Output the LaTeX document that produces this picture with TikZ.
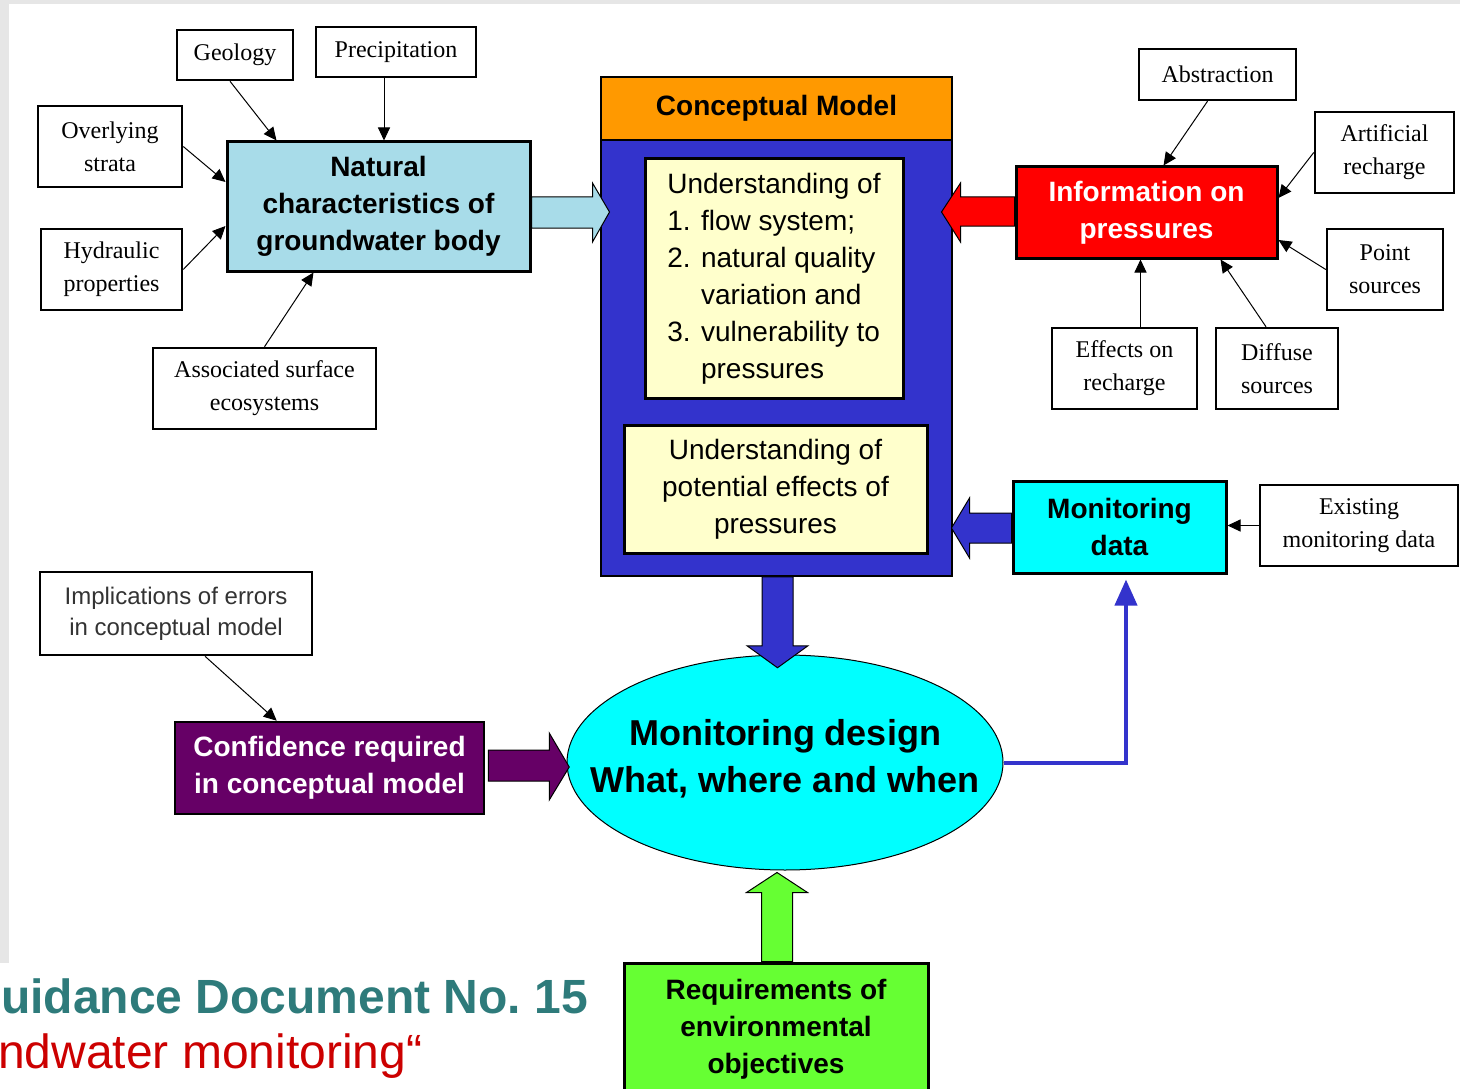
\documentclass[tikz,border=0pt]{standalone}
\usepackage{fontspec}
\setmainfont{Liberation Serif}
\setsansfont{Liberation Sans}
\usepackage{tikz}
\usetikzlibrary{arrows.meta,calc,shapes.geometric}
\usepackage{xcolor}
\definecolor{CMorange}{HTML}{FF9900}
\definecolor{CMblue}{HTML}{3333CC}
\definecolor{Pale}{HTML}{FFFFCC}
\definecolor{Water}{HTML}{A8DCE9}
\definecolor{Aqua}{HTML}{00FFFF}
\definecolor{Alarm}{HTML}{FF0000}
\definecolor{Plum}{HTML}{660066}
\definecolor{Lime}{HTML}{66FF33}
\definecolor{Slide}{HTML}{E6E6E6}
\definecolor{TealHead}{HTML}{2E7B7B}
\definecolor{RedSub}{HTML}{CC0000}
\tikzset{
  srcbox/.style={draw,line width=2.5pt,fill=white,inner sep=0pt,align=center,
    font=\rmfamily\fontsize{24}{33}\selectfont},
  keybox/.style={draw,line width=3pt,inner sep=0pt,align=center,
    font=\sffamily\bfseries\fontsize{28}{37}\selectfont},
  notebox/.style={draw,line width=3pt,fill=Pale,inner sep=0pt,
    font=\sffamily\fontsize{28}{37}\selectfont},
  feed/.style={line width=1pt,-{Triangle[length=13pt,width=12pt]}},
  block/.style={draw,line width=1pt,line join=miter},
}

\begin{document}
\begin{tikzpicture}[x=1pt,y=-1pt]
  \useasboundingbox (0,0) rectangle (1460,1089);
  \fill[white] (0,0) rectangle (1460,1089);
  \fill[Slide] (0,0) rectangle (1460,4);
  \fill[Slide] (0,0) rectangle (9,963);

  \node[srcbox,minimum width=116pt,minimum height=50pt] (geo) at (235,55) {Geology};
  \node[srcbox,minimum width=160pt,minimum height=50pt] (prec) at (396,52) {Precipitation};
  \node[srcbox,minimum width=144pt,minimum height=81pt] (over) at (110,146.5) {Overlying\\strata};
  \node[srcbox,minimum width=141pt,minimum height=81pt] (hyd) at (111.5,269.5) {Hydraulic\\properties};
  \node[srcbox,minimum width=223pt,minimum height=81pt] (assoc) at (264.5,388.5) {Associated surface\\ecosystems};
  \node[keybox,fill=Water,minimum width=303pt,minimum height=129pt] (nat) at (378.5,206.5)
    {Natural\\characteristics of\\groundwater body};

  \node[draw,line width=1.5pt,fill=CMorange,inner sep=0pt,minimum width=351pt,minimum height=63pt,
    font=\sffamily\bfseries\fontsize{28}{37}\selectfont] (cmhead) at (776.5,108.5) {Conceptual Model};
  \node[draw,line width=1.5pt,fill=CMblue,minimum width=351pt,minimum height=436pt] (cmbody) at (776.5,358) {};
  \node[notebox,align=left,minimum width=258pt,minimum height=239pt] (und1) at (774,278.5)
    {Understanding of\\1. flow system;\\2. natural quality\\\phantom{2. }variation and\\3. vulnerability to\\\phantom{3. }pressures};
  \node[notebox,align=center,minimum width=303pt,minimum height=128pt] (und2) at (775.5,489)
    {Understanding of\\potential effects of\\pressures};

  \node[keybox,fill=Alarm,text=white,minimum width=261pt,minimum height=91pt] (info) at (1146.5,212.5)
    {Information on\\pressures};
  \node[srcbox,minimum width=157pt,minimum height=51pt] (abst) at (1217.5,74.5) {Abstraction};
  \node[srcbox,minimum width=139pt,minimum height=81pt] (artif) at (1384.5,152.5) {Artificial\\recharge};
  \node[srcbox,minimum width=116pt,minimum height=81pt] (point) at (1385,269.5) {Point\\sources};
  \node[srcbox,minimum width=145pt,minimum height=81pt] (effect) at (1124.5,368.5) {Effects on\\recharge};
  \node[srcbox,minimum width=122pt,minimum height=81pt] (diffuse) at (1277,368.5) {Diffuse\\sources};
  \node[keybox,fill=Aqua,minimum width=213pt,minimum height=92pt] (mdata) at (1119.5,527) {Monitoring\\data};
  \node[srcbox,minimum width=198pt,minimum height=81pt] (exist) at (1359,525.5) {Existing\\monitoring data};

  \node[draw,line width=1pt,fill=Aqua,ellipse,inner sep=0pt,minimum width=436pt,minimum height=215pt,
    label={[align=center,font=\sffamily\bfseries\fontsize{36}{47}\selectfont,yshift=4pt]center:Monitoring design\\What, where and when}]
    (design) at (785,762.5) {};
  \node[draw,line width=2.5pt,fill=white,inner sep=0pt,minimum width=272pt,minimum height=83pt,
    align=center,text=black!80,font=\sffamily\fontsize{24}{31}\selectfont] (impl) at (176,613.5)
    {Implications of errors\\in conceptual model};
  \node[keybox,line width=2.5pt,fill=Plum,text=white,minimum width=309pt,minimum height=92pt] (conf) at (329.5,768)
    {Confidence required\\in conceptual model};
  \node[keybox,fill=Lime,minimum width=304pt,minimum height=132pt] (req) at (776,1029)
    {Requirements of\\environmental\\objectives};

  \node[anchor=base west,inner sep=0pt,text=TealHead,font=\sffamily\bfseries\fontsize{48}{58}\selectfont]
    (title) at (1,1013) {uidance Document No.\ 15};
  \node[anchor=base west,inner sep=0pt,text=RedSub,font=\sffamily\fontsize{48}{58}\selectfont]
    (subtitle) at (-2,1068) {ndwater monitoring“};

  \draw[feed] ([xshift=-5pt]geo.south) -- ([xshift=51pt]nat.north west);
  \draw[feed] ([xshift=-12pt]prec.south) -- ([xshift=-12pt]prec.south |- nat.north);
  \draw[feed] (over.east) -- ([yshift=24.5pt]nat.west);
  \draw[feed] (hyd.east) -- ([yshift=-19.5pt]nat.west);
  \draw[feed] (assoc.north) -- ([xshift=88pt]nat.south west);
  \draw[feed] ([xshift=-10pt]abst.south) -- ([xshift=149pt]info.north west);
  \draw[feed] (artif.west) -- ([yshift=14.5pt]info.east);
  \draw[feed] (point.west) -- ([yshift=-27.5pt]info.east);
  \draw[feed] ([xshift=16pt]effect.north) -- ([xshift=16pt]effect.north |- info.south);
  \draw[feed] ([xshift=-11pt]diffuse.north) -- ([xshift=206pt]info.south west);
  \draw[feed] (exist.west) -- (exist.west -| mdata.east);
  \draw[feed] ([xshift=29pt]impl.south) -- ([xshift=103pt]conf.north west);

  \draw[block,fill=Water] ($(nat.east)+(0,-9.5)$) -- ++(61,0) -- ++(0,-14) -- ++(17,29)
    -- ++(-17,30) -- ++(0,-14) -- ++(-61,0) -- cycle;
  \draw[block,fill=Alarm] ($(info.west)+(0,-15.5)$) -- ++(-54,0) -- ++(0,-14) -- ++(-19,29)
    -- ++(19,30) -- ++(0,-16) -- ++(54,0) -- cycle;
  \draw[block,fill=CMblue] ($(mdata.west)+(0,-14)$) -- ++(-42,0) -- ++(0,-15) -- ++(-18,30)
    -- ++(18,30) -- ++(0,-15) -- ++(42,0) -- cycle;
  \draw[block,fill=CMblue] ($(cmbody.south)+(-14.5,0)$) -- ++(0,69) -- ++(-15,0) -- ++(30.5,22)
    -- ++(30.5,-22) -- ++(-15,0) -- ++(0,-69) -- cycle;
  \draw[block,fill=Lime] ($(req.north)+(-14.5,0)$) -- ++(0,-69) -- ++(-15,0) -- ++(30.5,-20)
    -- ++(30.5,20) -- ++(-15,0) -- ++(0,69) -- cycle;
  \draw[block,fill=Plum] ($(conf.east)+(3,-18)$) -- ++(61,0) -- ++(0,-17) -- ++(20,34)
    -- ++(-20,33) -- ++(0,-19) -- ++(-61,0) -- cycle;

  \draw[CMblue,line width=4pt,-{Triangle[length=26pt,width=22pt]}]
    (design.east) -| ([xshift=6.5pt,yshift=-5pt]mdata.south);
\end{tikzpicture}
\end{document}
